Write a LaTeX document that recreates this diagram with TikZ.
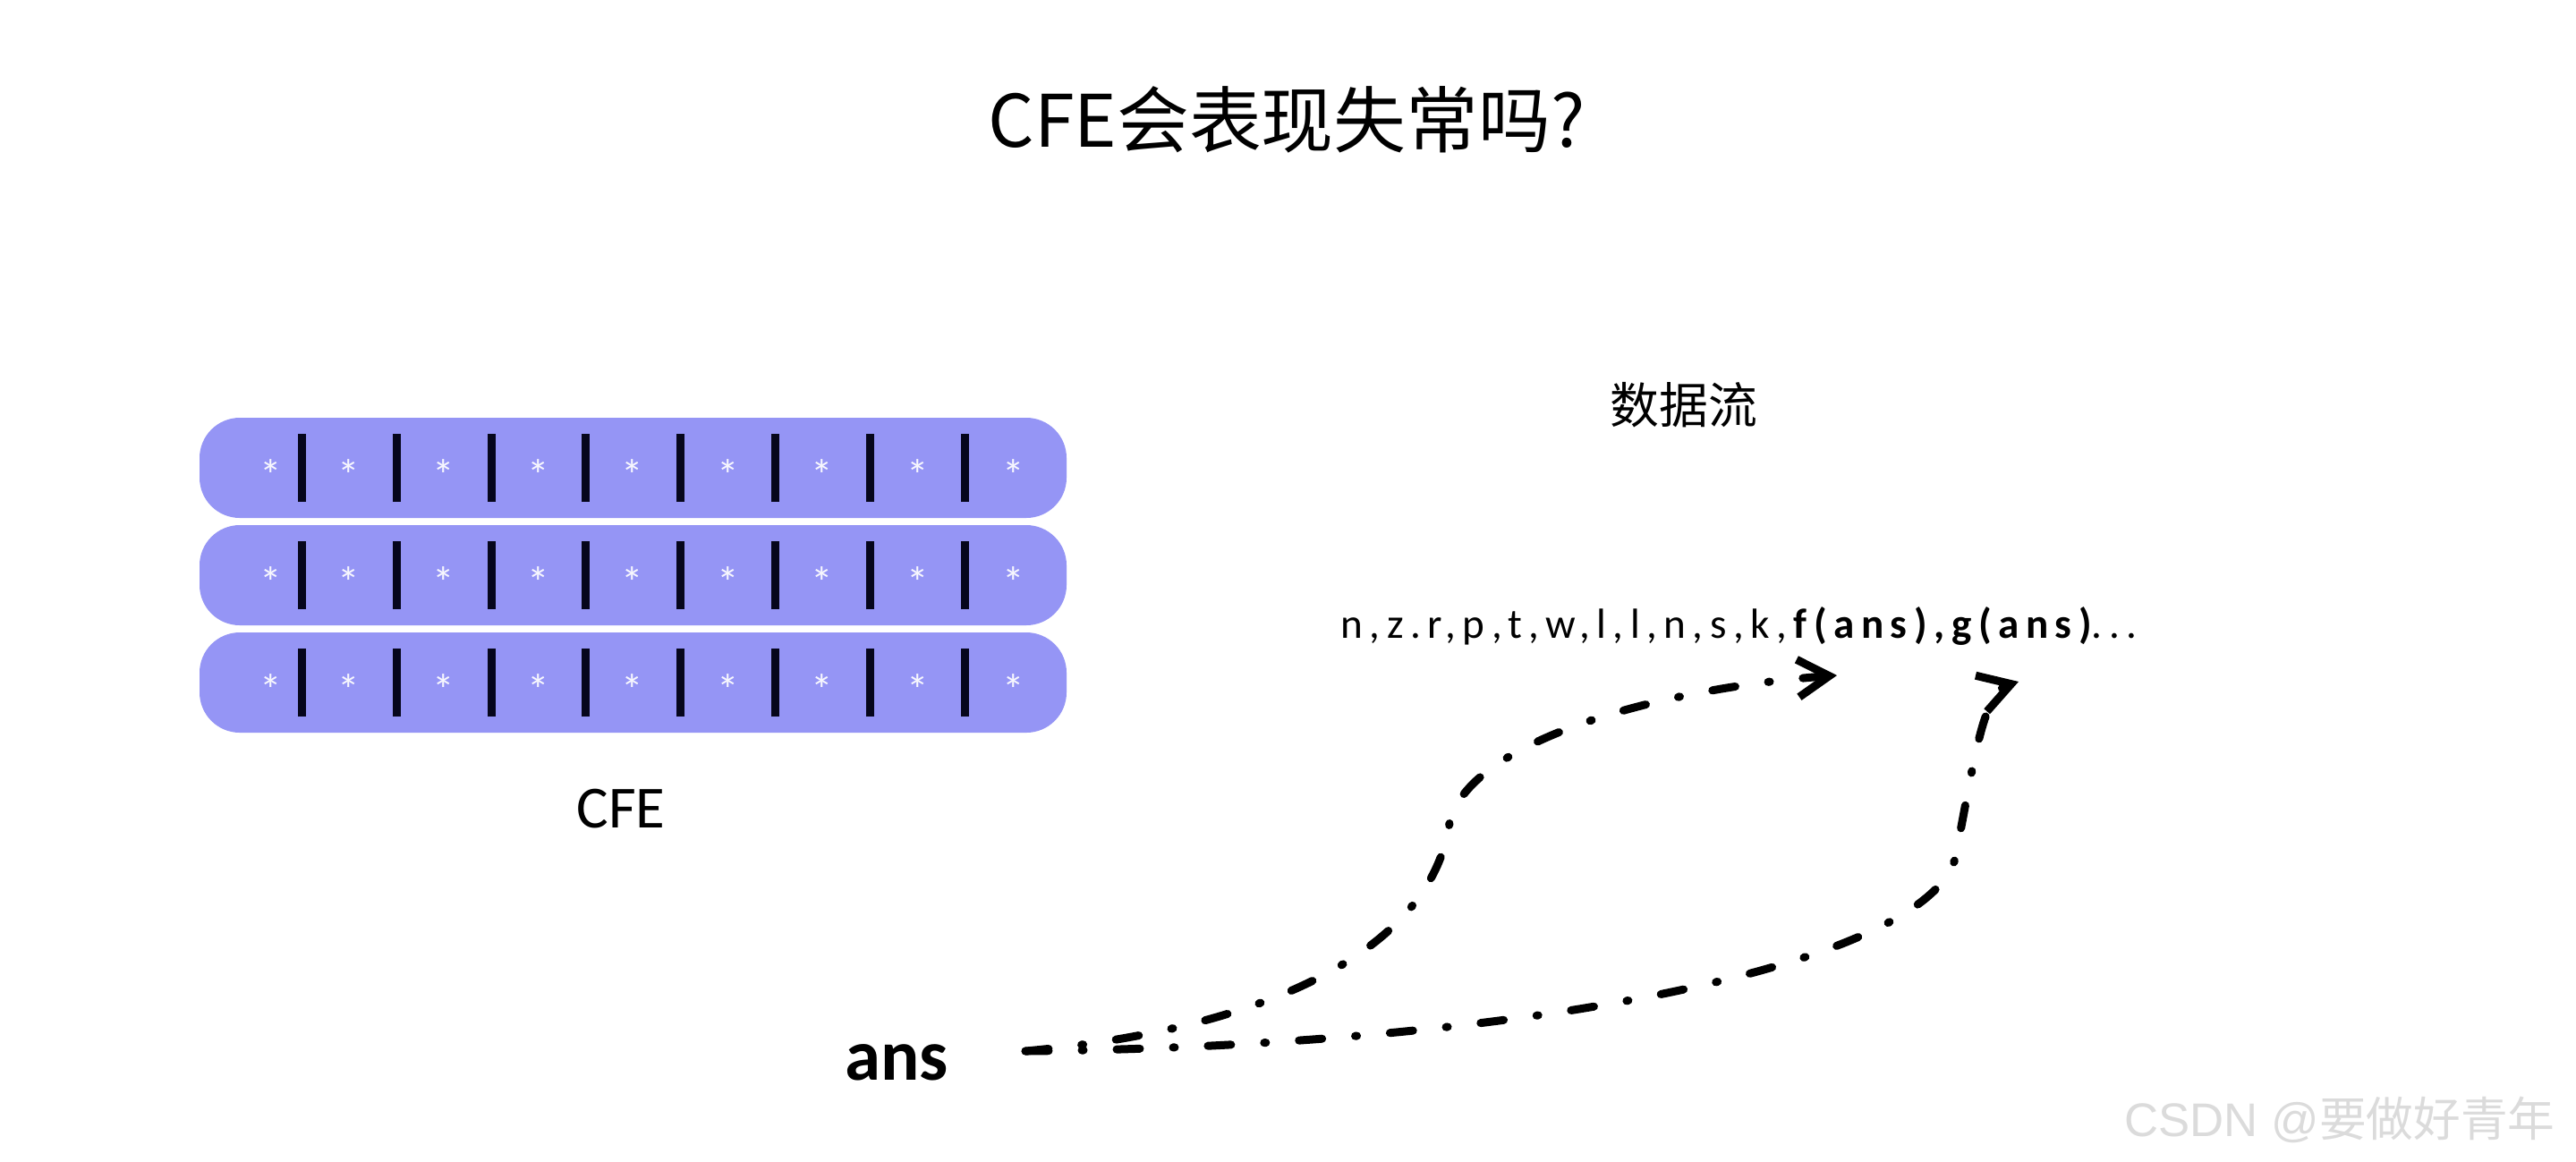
\documentclass[tikz,border=0pt]{standalone}
\usepackage{fontspec}
\setmainfont{Carlito}
\newfontfamily\cjk{Noto Sans CJK SC}
\newfontfamily\streamfont[LetterSpace=16]{Carlito}
\newfontfamily\wmfont{Liberation Sans}
\usetikzlibrary{arrows.meta}
\definecolor{barblue}{RGB}{149,149,245}
\definecolor{barink}{RGB}{6,6,28}

\tikzset{
  capsule/.style={fill=barblue, rounded corners=0.45cm},
  sepline/.style={draw=barink, line width=0.09cm},
  starmark/.style={text=white!92!barblue, inner sep=0pt, font=\fontsize{14}{14}\selectfont},
  flow/.style={line width=0.09cm, line cap=round,
    dash pattern=on 0.26cm off 0.37cm on 0.02cm off 0.37cm,
    -{Straight Barb[length=0.35cm,width=0.42cm]}},
}

\begin{document}
\begin{tikzpicture}
  \fill[white] (0,0) rectangle (28.79,-12.98);
  \useasboundingbox (0,0) rectangle (28.79,-12.98);

  % title and labels
  \node[anchor=base, font=\cjk\fontsize{23}{27}\selectfont] (title) at (14.38,-1.64) {CFE会表现失常吗?};
  \node[anchor=base, font=\cjk\fontsize{15.6}{18}\selectfont] (flowlabel) at (18.82,-4.73) {数据流};
  \node[anchor=base west, font=\streamfont\fontsize{13.4}{15}\selectfont] (stream) at (14.86,-7.13)
    {n,z.r,p,t,w,l,l,n,s,k,\textbf{f(ans),g(ans)}...};
  \node[anchor=base, font=\fontsize{19}{22}\selectfont] (cfe) at (6.94,-9.25) {CFE};
  \node[anchor=base, font=\bfseries\fontsize{23}{26}\selectfont] (ans) at (10.02,-12.07) {ans};

  % the three CFE bars
  \foreach \r/\y in {1/-5.23, 2/-6.43, 3/-7.63} {
    \fill[capsule] (2.23,\y-0.56) rectangle (11.92,\y+0.56);
    \foreach \x in {3.375,4.433,5.491,6.549,7.607,8.665,9.723,10.781}
      \draw[sepline] (\x,\y-0.38) -- (\x,\y+0.38);
    \foreach \x [count=\i] in {3.03,3.90,4.96,6.02,7.07,8.14,9.19,10.26,11.33}
      \node[starmark] (star\r\i) at (\x,\y-0.08) {*};
  }

  % data flow from ans
  \coordinate (src) at (11.46,-11.75);
  \coordinate (fmid) at (16.20,-9.20);
  \coordinate (fend) at (20.53,-7.55);
  \coordinate (gmid) at (21.85,-9.60);
  \coordinate (gend) at (22.56,-7.62);
  \draw[flow] (src) .. controls (14.20,-11.50) and (16.00,-10.60) .. (fmid)
    .. controls (16.40,-8.30) and (18.50,-7.70) .. (fend);
  \draw[flow] (src) .. controls (17.00,-11.70) and (21.50,-10.80) .. (gmid)
    .. controls (22.05,-8.60) and (22.15,-7.75) .. (gend);

  \node[anchor=east, text=black!14, font=\wmfont\fontsize{15}{15}\selectfont] (mark) at (28.68,-12.52) {CSDN @{\cjk 要做好青年}};
\end{tikzpicture}
\end{document}
